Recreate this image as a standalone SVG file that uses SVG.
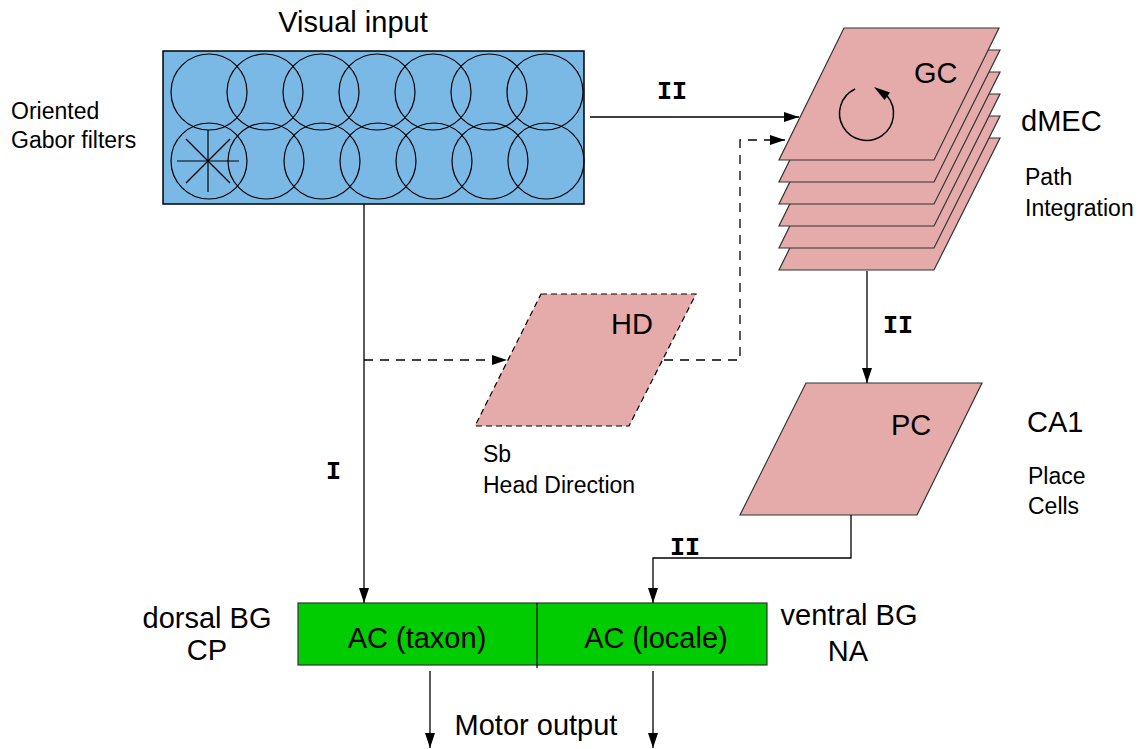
<svg xmlns="http://www.w3.org/2000/svg" width="1144" height="749" viewBox="0 0 1144 749">
  <style>
    .lbl { font-family: "Liberation Sans", Arial, sans-serif; fill: #000; }
    .big { font-size: 29px; }
    .small { font-size: 23px; }
    .path { font-family: "Liberation Mono", "Courier New", monospace; font-weight: bold; font-size: 25px; fill: #000; }
    .ring { fill: none; stroke: #000; stroke-width: 1.2; }
    .sheet { fill: #e5abab; stroke: #333; stroke-width: 1.2; }
    .wire { fill: none; stroke: #000; stroke-width: 1.3; }
    .dash { stroke-dasharray: 9 7; }
  </style>
  <defs>
    <marker id="arrow" markerUnits="userSpaceOnUse" markerWidth="15" markerHeight="10" refX="15" refY="5" orient="auto">
      <path d="M0,0 L15,5 L0,10 z" fill="#000"/>
    </marker>
  </defs>

  <rect width="1144" height="749" fill="#fff"/>

  <!-- Visual input: Gabor filter array -->
  <g id="visual-input">
    <rect x="163" y="51" width="421" height="153" fill="#7ab8e6" stroke="#000" stroke-width="1.5"/>
    <g class="ring">
      <circle cx="209" cy="92" r="38"/>
      <circle cx="265" cy="92" r="38"/>
      <circle cx="321" cy="92" r="38"/>
      <circle cx="377" cy="92" r="38"/>
      <circle cx="433" cy="92" r="38"/>
      <circle cx="489" cy="92" r="38"/>
      <circle cx="545" cy="92" r="38"/>
      <circle cx="209" cy="161" r="38"/>
      <circle cx="266" cy="161" r="38"/>
      <circle cx="322" cy="161" r="38"/>
      <circle cx="378" cy="161" r="38"/>
      <circle cx="434" cy="161" r="38"/>
      <circle cx="490" cy="161" r="38"/>
      <circle cx="546" cy="161" r="38"/>
    </g>
    <g stroke="#000" stroke-width="1.2">
      <line x1="208" y1="130" x2="208" y2="192"/>
      <line x1="177" y1="161" x2="239" y2="161"/>
      <line x1="186" y1="139" x2="230" y2="183"/>
      <line x1="230" y1="139" x2="186" y2="183"/>
    </g>
    <text class="lbl big" x="353" y="32" text-anchor="middle">Visual input</text>
    <text class="lbl small" x="11" y="119">Oriented</text>
    <text class="lbl small" x="11" y="148">Gabor filters</text>
  </g>

  <!-- dMEC: stacked grid-cell sheets -->
  <g id="dmec">
    <polygon class="sheet" points="844,138 1000,138 934,270 779,270"/>
    <polygon class="sheet" points="844,116 1000,116 934,248 779,248"/>
    <polygon class="sheet" points="844,94 1000,94 934,226 779,226"/>
    <polygon class="sheet" points="844,72 1000,72 934,204 779,204"/>
    <polygon class="sheet" points="844,50 1000,50 934,182 779,182"/>
    <polygon class="sheet" points="844,28 999,28 934,160 779,160"/>
    <!-- recurrent activity loop -->
    <path d="M855.1,89 A27,27 0 1 0 887.2,96.1" fill="none" stroke="#000" stroke-width="1.5"/>
    <polygon points="874,87 890,92.5 884.6,100" fill="#000"/>
    <text class="lbl big" x="914" y="83">GC</text>
    <text class="lbl big" x="1021" y="131">dMEC</text>
    <text class="lbl small" x="1025" y="185">Path</text>
    <text class="lbl small" x="1025" y="216">Integration</text>
  </g>

  <!-- Sb: head direction -->
  <g id="hd">
    <polygon points="541,294 696,294 629,426 475,426" fill="#e5abab" stroke="#000" stroke-width="1.2" stroke-dasharray="6 4"/>
    <text class="lbl big" x="611" y="334">HD</text>
    <text class="lbl small" x="483" y="462">Sb</text>
    <text class="lbl small" x="483" y="493">Head Direction</text>
  </g>

  <!-- CA1: place cells -->
  <g id="ca1">
    <polygon class="sheet" points="806,383 982,383 917,515 740,515"/>
    <text class="lbl big" x="891" y="435">PC</text>
    <text class="lbl big" x="1027" y="432">CA1</text>
    <text class="lbl small" x="1028" y="484">Place</text>
    <text class="lbl small" x="1028" y="514">Cells</text>
  </g>

  <!-- Basal ganglia actor-critic -->
  <g id="bg">
    <rect x="298" y="603" width="469" height="62" fill="#00cc00" stroke="#333" stroke-width="1.2"/>
    <line x1="537" y1="603" x2="537" y2="668" stroke="#000" stroke-width="1.2"/>
    <text class="lbl big" x="417" y="648" text-anchor="middle">AC (taxon)</text>
    <text class="lbl big" x="656" y="648" text-anchor="middle">AC (locale)</text>
    <text class="lbl big" x="207" y="628" text-anchor="middle">dorsal BG</text>
    <text class="lbl big" x="207" y="660" text-anchor="middle">CP</text>
    <text class="lbl big" x="849" y="625" text-anchor="middle">ventral BG</text>
    <text class="lbl big" x="848" y="661" text-anchor="middle">NA</text>
    <text class="lbl big" x="536" y="735" text-anchor="middle">Motor output</text>
  </g>

  <!-- Connectors -->
  <g id="connectors">
    <line class="wire" x1="364" y1="204" x2="364" y2="603" marker-end="url(#arrow)"/>
    <line class="wire dash" x1="364" y1="360" x2="507" y2="360" marker-end="url(#arrow)"/>
    <polyline class="wire dash" points="664,360 740,360 740,140 785,140" marker-end="url(#arrow)"/>
    <line class="wire" x1="590" y1="117" x2="799" y2="117" marker-end="url(#arrow)"/>
    <line class="wire" x1="867" y1="271" x2="867" y2="383" marker-end="url(#arrow)"/>
    <polyline class="wire" points="851,515 851,558 653,558 653,603" marker-end="url(#arrow)"/>
    <line class="wire" x1="430" y1="671" x2="430" y2="748" marker-end="url(#arrow)"/>
    <line class="wire" x1="653" y1="671" x2="653" y2="748" marker-end="url(#arrow)"/>
    <text class="path" x="657" y="99">II</text>
    <text class="path" x="883" y="333">II</text>
    <text class="path" x="670" y="555">II</text>
    <text class="path" x="326" y="479">I</text>
  </g>
</svg>
